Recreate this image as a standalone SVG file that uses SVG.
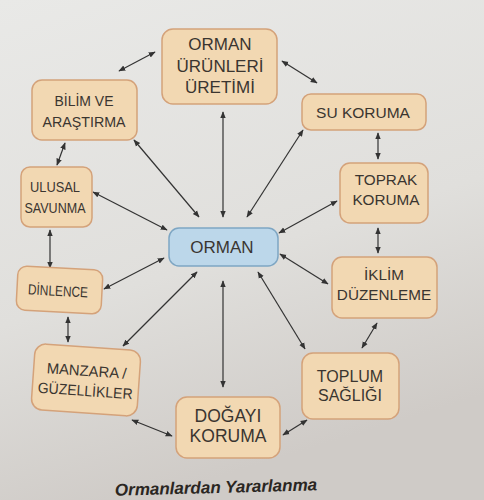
<svg xmlns="http://www.w3.org/2000/svg" width="484" height="500" viewBox="0 0 484 500">
<defs>
<linearGradient id="bg" x1="0" y1="0" x2="0.3" y2="1">
<stop offset="0" stop-color="#e9e9e7"/>
<stop offset="0.6" stop-color="#e0dfdc"/>
<stop offset="1" stop-color="#cfcbc7"/>
</linearGradient>
<marker id="ah" viewBox="0 0 10 10" refX="9" refY="5" markerWidth="7" markerHeight="7" orient="auto-start-reverse" markerUnits="userSpaceOnUse">
<path d="M0,1 L10,5 L0,9 Z" fill="#333"/>
</marker>
<style>
.n rect{fill:#f2d8b2;stroke:#d4a27a;stroke-width:1.5}
.c rect{fill:#bcd7ea;stroke:#7ea6c3;stroke-width:1.5}
text{font-family:"Liberation Sans",Arial,sans-serif;fill:#3a3530;text-anchor:middle}
#connectors line{stroke:#333;stroke-width:1.2;marker-start:url(#ah);marker-end:url(#ah)}
.cap{font-weight:bold;font-style:italic;font-size:17px;fill:#2a2622}
</style>
</defs>
<rect width="484" height="500" fill="url(#bg)"/>
<g id="connectors">
<line x1="155" y1="52" x2="119" y2="71"/>
<line x1="282" y1="61" x2="317" y2="83"/>
<line x1="378" y1="133" x2="378" y2="159"/>
<line x1="65" y1="143" x2="57" y2="165"/>
<line x1="223" y1="112" x2="223" y2="217"/>
<line x1="134" y1="140" x2="199" y2="217"/>
<line x1="303" y1="130" x2="247" y2="217"/>
<line x1="93" y1="192" x2="167" y2="230"/>
<line x1="337" y1="201" x2="279" y2="233"/>
<line x1="50" y1="230" x2="50" y2="268"/>
<line x1="104" y1="289" x2="164" y2="258"/>
<line x1="280" y1="254" x2="328" y2="284"/>
<line x1="378" y1="228" x2="378" y2="253"/>
<line x1="197" y1="272" x2="123" y2="346"/>
<line x1="223" y1="281" x2="223" y2="387"/>
<line x1="258" y1="272" x2="305" y2="349"/>
<line x1="68" y1="317" x2="68" y2="342"/>
<line x1="377" y1="323" x2="362" y2="348"/>
<line x1="132" y1="420" x2="172" y2="436"/>
<line x1="283" y1="435" x2="307" y2="420"/>
</g>
<g id="orman" class="c"><rect x="169" y="228" width="109" height="38" rx="10"/><text x="222" y="253" font-size="17">ORMAN</text></g>
<g id="urunler" class="n"><rect x="162" y="29" width="115" height="75" rx="11"/><text x="220" y="50" font-size="17">ORMAN</text><text x="220" y="72" font-size="17">ÜRÜNLERİ</text><text x="220" y="93" font-size="17">ÜRETİMİ</text></g>
<g id="bilim" class="n"><rect x="32" y="80" width="105" height="60" rx="10"/><text x="84" y="106" font-size="15" textLength="59" lengthAdjust="spacingAndGlyphs">BİLİM VE</text><text x="84" y="127" font-size="15" textLength="83" lengthAdjust="spacingAndGlyphs">ARAŞTIRMA</text></g>
<g id="su" class="n"><rect x="302" y="94" width="124" height="36" rx="9"/><text x="363" y="118" font-size="15.5">SU KORUMA</text></g>
<g id="ulusal" class="n"><rect x="21" y="167" width="71" height="60" rx="9"/><text x="55" y="192" font-size="15" textLength="50" lengthAdjust="spacingAndGlyphs">ULUSAL</text><text x="55" y="213" font-size="15" textLength="61" lengthAdjust="spacingAndGlyphs">SAVUNMA</text></g>
<g id="toprak" class="n"><rect x="340" y="163" width="88" height="60" rx="10"/><text x="386" y="185" font-size="15.3">TOPRAK</text><text x="386" y="205" font-size="15.3">KORUMA</text></g>
<g id="dinlence" class="n" transform="rotate(3 60 290)"><rect x="17" y="268" width="85" height="44" rx="9"/><text x="58" y="296" font-size="14.5" textLength="60" lengthAdjust="spacingAndGlyphs">DİNLENCE</text></g>
<g id="iklim" class="n"><rect x="332" y="257" width="105" height="61" rx="10"/><text x="384" y="280" font-size="15.3">İKLİM</text><text x="384" y="300" font-size="15.3">DÜZENLEME</text></g>
<g id="manzara" class="n" transform="rotate(4 86 380)"><rect x="33" y="347" width="106" height="66" rx="11"/><text x="86" y="376" font-size="15" textLength="80" lengthAdjust="spacingAndGlyphs">MANZARA /</text><text x="86" y="396" font-size="15" textLength="95" lengthAdjust="spacingAndGlyphs">GÜZELLİKLER</text></g>
<g id="dogayi" class="n"><rect x="176" y="397" width="104" height="61" rx="11"/><text x="228" y="422" font-size="17.5">DOĞAYI</text><text x="228" y="442" font-size="17.5">KORUMA</text></g>
<g id="toplum" class="n"><rect x="302" y="353" width="97" height="66" rx="11"/><text x="350" y="382" font-size="16">TOPLUM</text><text x="350" y="401" font-size="16">SAĞLIĞI</text></g>
<text class="cap" x="216" y="493" transform="rotate(-1.5 216 488)">Ormanlardan Yararlanma</text>
</svg>
